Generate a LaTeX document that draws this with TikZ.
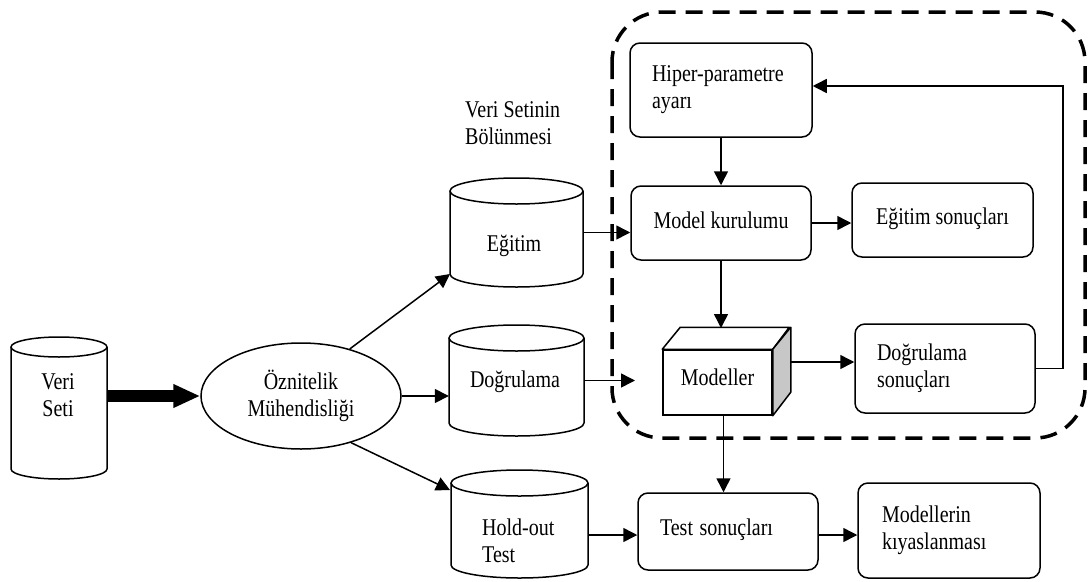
\documentclass[tikz,border=0pt]{standalone}
\usepackage{fontspec}
\usepackage{graphicx}
\setmainfont{Liberation Serif}
\usetikzlibrary{arrows.meta,shapes.geometric,calc}
\newcommand\mycyl[5]{% cx, ytop, ybot, half width, ry
  \draw[ln] (#1,#2+#5) ellipse[x radius=#4,y radius=#5];
  \draw[ln] (#1-#4,#2+#5) -- (#1-#4,#3-#5) arc[start angle=180,end angle=0,x radius=#4,y radius=#5] -- (#1+#4,#2+#5);}
\newcommand\vs[1]{\scalebox{1}[1.2]{#1}}
\begin{document}
\begin{tikzpicture}[x=1pt,y=-1pt,
  font=\fontsize{20}{27}\selectfont,
  ln/.style={line width=1.5pt},
  conn/.style={ln,-{Triangle[length=14pt,width=14pt]}},
  box/.style={ln,draw,rounded corners=10pt,inner sep=0pt},
  cylbody/.style={draw=none,inner sep=0pt},
  txt/.style={inner sep=0pt}]
\useasboundingbox (0,0) rectangle (1089,581);
\fill[white] (0,0) rectangle (1089,581);

% dashed region
\draw[line width=3.5pt, dash pattern=on 17pt off 10pt, rounded corners=50pt] (612,12) rectangle (1085,438);

% cylinders
\mycyl{59}{337}{479}{48}{10}
\mycyl{516.5}{178}{287}{66.5}{13}
\mycyl{516.5}{325}{436}{67.5}{13}
\mycyl{519.5}{470}{578}{68.5}{13}
\node[cylbody, minimum width=96pt, minimum height=142pt] (veri) at (59,408) {};
\node[cylbody, minimum width=133pt, minimum height=109pt] (egitim) at (516.5,232.5) {};
\node[cylbody, minimum width=135pt, minimum height=111pt] (dogr) at (516.5,380.5) {};
\node[cylbody, minimum width=137pt, minimum height=108pt] (holdout) at (519.5,524) {};
\node[txt, align=center] (verit) at (58,395) {\vs{Veri}\\\vs{Seti}};
\node[txt] (egitimt) at (514,246) {\vs{Eğitim}};
\node[txt] (dogrt) at (515,382) {\vs{Doğrulama}};
\node[txt, anchor=west, align=left] (holdt) at (482,541) {\vs{Hold-out}\\\vs{Test}};
\node[txt, anchor=west, align=left] (vsb) at (465,123.5) {\vs{Veri Setinin}\\\vs{Bölünmesi}};

% ellipse
\node[ellipse, draw, ln, minimum width=200pt, minimum height=106pt, inner sep=0pt, align=center] (oz) at (301,396) {\vs{Öznitelik}\\\vs{Mühendisliği}};

% boxes
\node[box, minimum width=182pt, minimum height=94pt, text width=138pt, align=left] (hiper) at (721,90) {\vs{Hiper-parametre}\\\vs{ayarı}};
\node[box, minimum width=180pt, minimum height=74pt, align=center] (model) at (721,223) {\raisebox{6pt}{\vs{Model kurulumu}}};
\node[box, minimum width=181pt, minimum height=74pt, align=center] (egsonuc) at (942.5,220) {\raisebox{7pt}{\vs{Eğitim sonuçları}}};
\node[box, minimum width=180pt, minimum height=89pt, text width=136pt, align=left] (dogsonuc) at (945,368.5) {\vs{Doğrulama}\\\vs{sonuçları}};
\node[box, minimum width=180pt, minimum height=77pt, text width=136pt, align=left] (tests) at (728,531.5) {\raisebox{8pt}{\vs{Test sonuçları}}};
\node[box, minimum width=182pt, minimum height=95pt, text width=134pt, align=left] (kiyas) at (949,530.5) {\vs{Modellerin}\\\vs{kıyaslanması}};

% Modeller cuboid
\node[ln, draw, fill=white, minimum width=109pt, minimum height=65pt, inner sep=0pt] (modeller) at (717.5,382.5) {\raisebox{10pt}{\vs{Modeller}}};
\draw[ln, fill=white, line join=round] (modeller.north west) -- ++(18,-22) -- ++(109,0) -- (modeller.north east) -- cycle;
\draw[ln, fill=black!22, line join=round] (modeller.north east) -- ++(18,-22) -- ++(0,65) -- (modeller.south east) -- cycle;

% helper coordinates
\coordinate (egtip) at (450,274);
\coordinate (hotip) at (450,490);
\coordinate (dogrtip) at (635,380.5);
\coordinate (hty) at (0,535);
\coordinate (modtop) at (0,328);
\coordinate (modr) at (790,362);
\coordinate (fbc) at (1063,86);

% connectors
\draw[line width=12pt,-{Triangle[length=27pt,width=22pt]}] (veri.east |- oz.west) -- (oz.west);
\draw[conn] (oz.44) -- (egtip);
\draw[conn] (oz.east) -- (dogr.west |- oz.east);
\draw[conn] (oz.-43) -- (hotip);
\draw[conn] (egitim.east) -- (model.west |- egitim.east);
\draw[conn] (dogr.east) -- (dogrtip);
\draw[conn] (holdout.east |- hty) -- (tests.west |- hty);
\draw[conn] (tests.east |- hty) -- (kiyas.west |- hty);
\draw[conn] (hiper) -- (model);
\draw[conn] (model.east) -- (egsonuc.west |- model.east);
\draw[conn] (model.south) -- (model.south |- modtop);
\draw[conn] (modr) -- (dogsonuc.west |- modr);
\draw[conn] ([xshift=6pt]modeller.south) -- ([xshift=6pt]modeller.south |- tests.north);
\draw[conn] (dogsonuc.east) -| (fbc) -- (hiper.east |- fbc);
\end{tikzpicture}
\end{document}
